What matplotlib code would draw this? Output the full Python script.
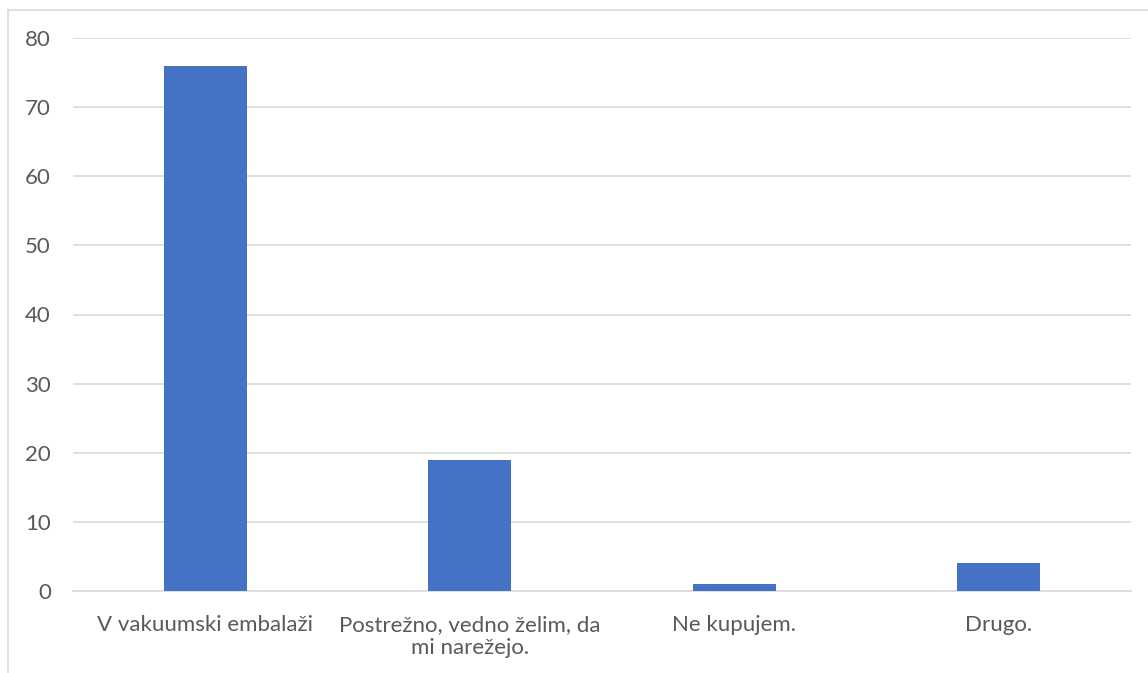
import matplotlib
matplotlib.use("Agg")
import matplotlib.pyplot as plt
from matplotlib.lines import Line2D

categories = ["V vakuumski embalaži", "Postrežno, vedno želim, da\nmi narežejo.", "Ne kupujem.", "Drugo."]
values = [76, 19, 1, 4]
yticks = [0, 10, 20, 30, 40, 50, 60, 70, 80]

W, H = 1148, 673
fig = plt.figure(figsize=(W/100, H/100), dpi=100)
plt.rcParams['font.family'] = ['Lato', 'DejaVu Sans']

left, right, top, bottom = 73, 1131, 38, 591
ax = fig.add_axes([left/W, 1-bottom/H, (right-left)/W, (bottom-top)/H])

x = list(range(len(categories)))
ax.bar(x, values, width=0.315, color='#4472C4', zorder=3)
ax.set_xlim(-0.5, len(categories)-0.5)
ax.set_ylim(0, 80)
ax.set_yticks(yticks)
ax.set_xticks(x)
ax.set_xticklabels(categories, fontsize=16, color='#595959', linespacing=1.2)
ax.tick_params(axis='y', labelsize=16, labelcolor='#595959', length=0, pad=16)
ax.tick_params(axis='x', length=0, pad=17)
ax.grid(axis='y', color='#d9d9d9', linewidth=1.2, zorder=0)
for s in ['top', 'right', 'left']:
    ax.spines[s].set_visible(False)
ax.spines['bottom'].set_color('#d9d9d9')
ax.spines['bottom'].set_linewidth(1.2)

# chart border
fig.add_artist(Line2D([7.5/W, 7.5/W], [0, 1-9.5/H], transform=fig.transFigure, color='#d9d9d9', linewidth=1.2))
fig.add_artist(Line2D([7.5/W, 1], [1-9.5/H, 1-9.5/H], transform=fig.transFigure, color='#d9d9d9', linewidth=1.2))

fig.savefig("out.png", dpi=100, facecolor='white')
